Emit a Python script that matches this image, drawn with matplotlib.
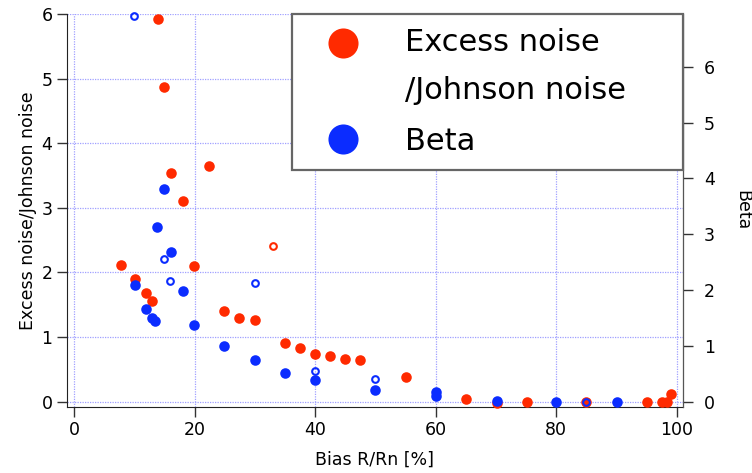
import numpy as np
import matplotlib
matplotlib.use('Agg')
import matplotlib.pyplot as plt

plt.rcParams.update({
    'font.family': 'DejaVu Sans',
    'font.size': 12,
})

RED = '#ff2a00'
BLUE = '#0b2cff'

# Excess noise / Johnson noise vs bias point (left axis)
noise_bias = [7.8, 10.1, 11.9, 12.9, 13.9, 15.0, 16.1, 18.0, 19.9, 22.4, 24.9, 27.4,
              30.1, 35.0, 37.5, 40.0, 42.5, 44.9, 47.4, 55.0, 65.0, 70.1, 75.1, 84.9,
              95.1, 97.6, 98.4, 99.0]
noise_ratio = [2.12, 1.90, 1.69, 1.56, 5.93, 4.87, 3.54, 3.11, 2.10, 3.64, 1.40, 1.29,
               1.26, 0.91, 0.83, 0.74, 0.70, 0.66, 0.65, 0.38, 0.04, -0.02, 0.0, 0.0,
               0.0, 0.0, 0.0, 0.12]
noise_open_bias = [33.0]
noise_open_ratio = [2.41]

# Beta vs bias point (right axis)
beta_bias = [10.1, 11.9, 12.9, 13.5, 13.8, 15.0, 16.1, 18.0, 19.9, 24.9, 30.1, 35.0,
             40.0, 50.0, 60.0, 60.0, 70.1, 80.0, 90.1]
beta = [2.10, 1.67, 1.51, 1.46, 3.14, 3.81, 2.68, 1.98, 1.38, 1.01, 0.75, 0.53,
        0.39, 0.22, 0.19, 0.12, 0.03, 0.01, 0.01]
beta_open_bias = [9.95, 14.9, 15.9, 30.0, 40.0, 50.0, 84.9]
beta_open = [6.9, 2.56, 2.16, 2.14, 0.56, 0.42, 0.0]

fig = plt.figure(figsize=(7.52, 4.73), dpi=100)
ax = fig.add_axes([0.0891, 0.1402, 0.8191, 0.8302])
ax2 = ax.twinx()

ax.set_xlim(-1.16, 101.0)
ax.set_ylim(-0.077, 6.0)
ax2.set_ylim(-0.079, 6.94)

ax.set_xticks(np.arange(0, 101, 20))
ax.set_yticks(np.arange(0, 7, 1))
ax2.set_yticks(np.arange(0, 7, 1))

ax.grid(True, color='#a0a0ff', linestyle=(0, (1, 1)), linewidth=0.9)
ax.set_axisbelow(True)

ax.plot(noise_bias, noise_ratio, 'o', color=RED, markersize=7.6, markeredgewidth=0,
        label='Excess noise\n/Johnson noise', clip_on=False, zorder=3)
ax.plot(noise_open_bias, noise_open_ratio, 'o', markerfacecolor='none',
        markeredgecolor=RED, markersize=4.8, markeredgewidth=1.5, zorder=3)

ax2.plot(beta_bias, beta, 'o', color=BLUE, markersize=7.6, markeredgewidth=0,
         label='Beta', clip_on=False, zorder=3)
ax2.plot(beta_open_bias, beta_open, 'o', markerfacecolor='none',
         markeredgecolor=BLUE, markersize=4.8, markeredgewidth=1.5,
         clip_on=False, zorder=4)

for a in (ax, ax2):
    a.spines['top'].set_visible(False)
ax.spines['left'].set_color('#222222')
ax.spines['bottom'].set_color('#222222')
ax2.spines['right'].set_color('#555555')
ax2.spines['left'].set_visible(False)
ax2.spines['bottom'].set_visible(False)

ax.tick_params(axis='both', direction='out', length=7, width=1, labelsize=12.5,
               color='#333333')
ax2.tick_params(axis='y', direction='out', length=7, width=1, labelsize=12.5,
                color='#333333', pad=8)

ax.set_xlabel('Bias R/Rn [%]', fontsize=12.5, labelpad=8)
ax.set_ylabel('Excess noise/Johnson noise', fontsize=12.5, labelpad=3)
ax2.set_ylabel('Beta', fontsize=12.5, rotation=270, labelpad=26)

h1, l1 = ax.get_legend_handles_labels()
h2, l2 = ax2.get_legend_handles_labels()
leg = ax2.legend(h1 + h2, l1 + l2, loc='upper left',
                 bbox_to_anchor=(0.366, 0.0, 0.634, 1.0), mode='expand',
                 borderaxespad=0, fontsize=22, markerscale=2.85,
                 handlelength=2.44, handletextpad=0.8, labelspacing=0.72,
                 borderpad=0.45, fancybox=False, framealpha=1)
leg.get_frame().set_edgecolor('#666666')
leg.get_frame().set_linewidth(1.6)
for t in leg.get_texts():
    t.set_linespacing(1.83)

# put the first marker level with the first line of its two-line label
first = leg.legend_handles[0]
first.set_ydata(np.asarray(first.get_ydata()) + 17)

fig.savefig('out.png', dpi=100)
